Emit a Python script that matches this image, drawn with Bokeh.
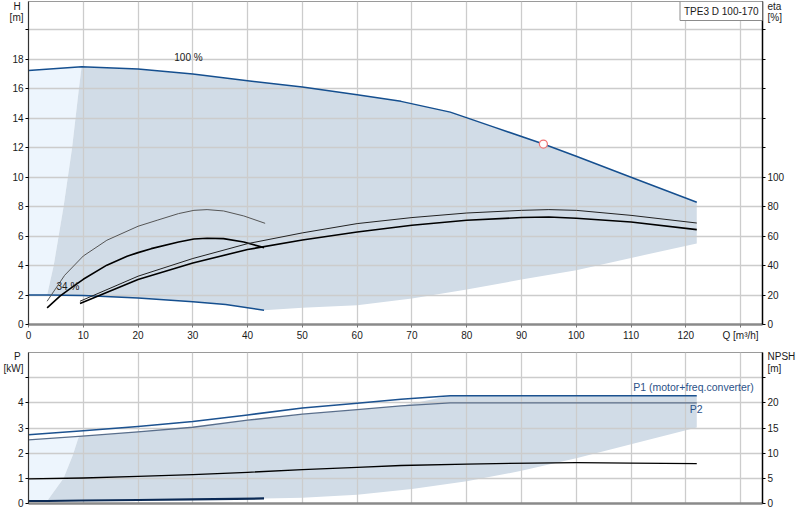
from bokeh.plotting import figure
from bokeh.layouts import column
from bokeh.models import Range1d, LinearAxis, FixedTicker, Label
from bokeh.core.properties import value
from bokeh.embed import file_html
from bokeh.resources import INLINE

FONT = "Liberation Sans"

# pump curves, head H [m] over flow Q [m3/h]
q_100 = [0, 9.7, 20, 30, 40, 50, 60, 68, 77, 85, 94, 100, 110, 122]
h_100 = [17.25, 17.5, 17.35, 17.0, 16.55, 16.12, 15.6, 15.15, 14.42, 13.4, 12.25, 11.42, 10.0, 8.3]
q_34 = [0, 3.4, 10, 20, 30, 36, 43]
h_34 = [2.0, 2.0, 1.97, 1.8, 1.55, 1.35, 0.97]
# edges of the operating range
q_min = [3.4, 4.6, 6.4, 7.96, 9.2, 9.7]
h_min = [2.0, 4.0, 8.0, 12.0, 16.0, 17.5]
q_low = [43, 50, 60, 70, 80, 90, 100, 110, 122]
h_low = [0.97, 1.13, 1.31, 1.76, 2.37, 3.05, 3.68, 4.52, 5.5]

# duty point
q_duty = [94]
h_duty = [12.25]

# efficiency curves [%]
q_eta_a = [3.4, 6.6, 10, 14.3, 20, 23.5, 27.4, 30.2, 32.6, 35.6, 39.3, 43.2]
eta_a = [15.8, 33.4, 46.5, 57.2, 66.7, 70.8, 75.3, 77.5, 78.0, 77.1, 73.7, 68.7]
q_eta_b = [3.4, 5.8, 8.3, 10, 14.3, 18, 20, 22.4, 27.4, 30.2, 32.6, 35.6, 39.3, 43.0]
eta_b = [11.3, 19.4, 26.2, 30.7, 40.3, 46.3, 48.8, 51.5, 56.0, 58.1, 58.6, 58.3, 56.0, 52.2]
q_eta_c = [9.4, 20, 30, 40, 50, 60, 70, 80, 90, 95, 100, 110, 122]
eta_c = [15.8, 32.8, 44.8, 54.9, 62.2, 68.5, 72.6, 75.7, 77.5, 78.0, 77.5, 74.1, 68.9]
eta_d = [14.2, 30.5, 41.8, 50.9, 57.4, 62.8, 67.4, 70.8, 72.6, 73.0, 72.1, 69.6, 64.4]

# power [kW]
q_p1 = [0, 10, 20, 30, 40, 50, 60, 68, 77, 122]
p1 = [2.73, 2.89, 3.06, 3.26, 3.52, 3.79, 3.98, 4.14, 4.28, 4.28]
q_p2 = [0, 9.2, 20, 30, 40, 50, 60, 68, 77, 122]
p2 = [2.53, 2.67, 2.85, 3.03, 3.31, 3.55, 3.73, 3.88, 4.0, 4.0]
q_p34 = [0, 3.4, 10, 20, 30, 43]
p34 = [0.1, 0.1, 0.12, 0.14, 0.16, 0.2]
q_pmin = [3.4, 6.4, 8.1, 9.2]
p_min = [0.1, 1.0, 1.93, 2.67]
q_plow = [43, 50, 60, 70, 80, 90, 100, 110, 122]
p_low = [0.2, 0.23, 0.35, 0.58, 0.88, 1.3, 1.8, 2.35, 3.02]

# NPSH [m]
q_npsh = [0, 10, 20, 30, 40, 50, 60, 68, 80, 92, 100, 110, 122]
npsh = [4.9, 5.07, 5.4, 5.74, 6.2, 6.73, 7.19, 7.55, 7.84, 8.04, 8.12, 8.04, 7.92]

# axis ticks
q_ticks = list(range(0, 140, 10))
h_ticks = list(range(0, 22, 2))
h_labels = {t: str(t) for t in range(0, 20, 2)}
eta_ticks = list(range(0, 220, 20))
eta_labels = {t: str(t) for t in range(0, 120, 20)}
p_ticks = list(range(0, 6))
p_labels = {t: str(t) for t in range(0, 5)}
npsh_ticks = list(range(0, 30, 5))
npsh_labels = {t: str(t) for t in range(0, 25, 5)}

LIGHT = "#edf5fd"
DARK = "#d1dce7"
BLUE = "#154f8f"


def tick_axis(ax, ticks, color, width):
    # ticks and axis line only
    ax.ticker = FixedTicker(ticks=ticks)
    ax.axis_line_color = color
    ax.axis_line_width = width
    ax.major_tick_line_color = "black"
    ax.major_tick_out = 3
    ax.major_tick_in = 0
    ax.minor_tick_line_color = None
    ax.major_label_standoff = 0
    ax.major_label_text_font_size = "0px"
    ax.major_label_text_color = None


def label_axis(p, side, labels, range_name="default"):
    # labels only, stacked outside the tick axis
    ax = LinearAxis(y_range_name=range_name, ticker=FixedTicker(ticks=list(labels.keys())))
    ax.major_label_overrides = labels
    ax.axis_line_color = None
    ax.major_tick_line_color = None
    ax.minor_tick_line_color = None
    ax.major_tick_out = 0
    ax.major_tick_in = 0
    ax.major_label_standoff = 2
    ax.major_label_text_font = FONT
    ax.major_label_text_font_size = "10px"
    ax.major_label_text_color = "#1a1a1a"
    p.add_layout(ax, side)


def base(p):
    p.background_fill_color = "white"
    p.border_fill_color = "white"
    p.outline_line_color = "#9a9a9a"
    p.grid.grid_line_color = "#cccccc"
    p.grid.grid_line_width = 1.3


xr = Range1d(0, 134)

# ---------------- head / efficiency ----------------
top = figure(frame_width=734, frame_height=323, min_border_left=28, min_border_right=36,
             min_border_top=1, min_border_bottom=18, x_range=xr, y_range=Range1d(0, 21.93),
             toolbar_location=None, output_backend="svg")
top.extra_y_ranges = {"eta": Range1d(0, 219.3)}
base(top)

light = top.patch(q_100[:2] + q_min[-2::-1] + [q_34[0]],
                  h_100[:2] + h_min[-2::-1] + [h_34[0]],
                  fill_color=LIGHT, line_color=None)
dark = top.patch(q_min + q_100[2:] + q_low[::-1] + q_34[-2:1:-1],
                 h_min + h_100[2:] + h_low[::-1] + h_34[-2:1:-1],
                 fill_color=DARK, line_color=None)
light.level = "image"
dark.level = "image"

top.line(q_100, h_100, line_color=BLUE, line_width=1.5, line_join="round")
top.line(q_34, h_34, line_color=BLUE, line_width=1.5, line_join="round")
top.line(q_eta_a, eta_a, y_range_name="eta", line_color="#555555", line_width=1,
         line_join="round")
top.line(q_eta_b, eta_b, y_range_name="eta", line_color="black", line_width=1.6,
         line_join="round")
top.line(q_eta_c, eta_c, y_range_name="eta", line_color="#222222", line_width=1,
         line_join="round")
top.line(q_eta_c, eta_d, y_range_name="eta", line_color="black", line_width=1.6,
         line_join="round")
top.scatter(q_duty, h_duty, marker="circle", size=8, fill_color="white",
            line_color="#f07474", line_width=1.2)

top.text(x=[29.2, 7.2], y=[18.1, 2.6], text=["100 %", "34 %"], text_font=value(FONT),
         text_font_size="10px", text_color="#1a1a1a", text_align="center",
         text_baseline="middle")

top.xaxis.ticker = FixedTicker(ticks=q_ticks)
top.xaxis.major_label_overrides = {130: "Q [m³/h]"}
top.xaxis.axis_line_color = "#8a8a8a"
top.xaxis.axis_line_width = 2.5
top.xaxis.major_tick_line_color = "#777777"
top.xaxis.major_tick_out = 3
top.xaxis.major_tick_in = 0
top.xaxis.minor_tick_line_color = None
top.xaxis.major_label_standoff = 2
top.xaxis.major_label_text_font = FONT
top.xaxis.major_label_text_font_size = "10px"
top.xaxis.major_label_text_color = "#1a1a1a"

tick_axis(top.yaxis[0], h_ticks, "#333333", 1.2)
label_axis(top, "left", {**h_labels, 20.85: "[m]", 21.66: "H "})
eta_ax = LinearAxis(y_range_name="eta")
top.add_layout(eta_ax, "right")
tick_axis(eta_ax, eta_ticks, "black", 1.5)
label_axis(top, "right", {**eta_labels, 208.5: "[%]", 216.6: "eta"}, "eta")

top.xgrid.ticker = FixedTicker(ticks=q_ticks)
top.ygrid.ticker = FixedTicker(ticks=h_ticks)

top.add_layout(Label(x=734, y=323, x_units="screen", y_units="screen", text="TPE3 D 100-170",
                     text_font=FONT, text_font_size="10px", text_color="#1a1a1a",
                     text_align="right", text_baseline="top", background_fill_color="white",
                     border_line_color="#8c8c8c", padding=4))

# ---------------- power / NPSH ----------------
bot = figure(frame_width=734, frame_height=151, min_border_left=28, min_border_right=36,
             min_border_top=9, min_border_bottom=10, x_range=xr, y_range=Range1d(0, 6),
             toolbar_location=None, output_backend="svg")
bot.extra_y_ranges = {"npsh": Range1d(0, 30)}
base(bot)

plight = bot.patch(q_p2[:2] + q_pmin[-2::-1] + [q_p34[0]],
                   p2[:2] + p_min[-2::-1] + [p34[0]],
                   fill_color=LIGHT, line_color=None)
pdark = bot.patch(q_pmin + q_p2[2:8] + q_p1[8:] + q_plow[::-1] + q_p34[-2:1:-1],
                  p_min + p2[2:8] + p1[8:] + p_low[::-1] + p34[-2:1:-1],
                  fill_color=DARK, line_color=None)
plight.level = "image"
pdark.level = "image"

bot.line(q_p1, p1, line_color="#1c5290", line_width=1.5, line_join="round")
bot.line(q_p2, p2, line_color="#5a6f8c", line_width=1.3, line_join="round")
bot.line(q_p34, p34, line_color="#0b2a55", line_width=2.2, line_join="round")
bot.line(q_npsh, npsh, y_range_name="npsh", line_color="black", line_width=1.3,
         line_join="round")

bot.text(x=[132.4], y=[4.62], text=["P1 (motor+freq.converter)"], text_font=value(FONT),
         text_font_size="10.5px", text_color="#2b5288", text_align="right",
         text_baseline="middle")
bot.text(x=[121.9], y=[3.75], text=["P2"], text_font=value(FONT),
         text_font_size="10.5px", text_color="#2b5288", text_align="center",
         text_baseline="middle")

tick_axis(bot.xaxis[0], q_ticks, "#8a8a8a", 2.5)
bot.xaxis.major_tick_out = 0
tick_axis(bot.yaxis[0], p_ticks, "#333333", 1.2)
label_axis(bot, "left", {**p_labels, 5.36: "[kW]", 5.83: "P "})
npsh_ax = LinearAxis(y_range_name="npsh")
bot.add_layout(npsh_ax, "right")
tick_axis(npsh_ax, npsh_ticks, "black", 1.5)
label_axis(bot, "right", {**npsh_labels, 26.8: "[m]", 29.15: "NPSH"}, "npsh")

bot.xgrid.ticker = FixedTicker(ticks=q_ticks)
bot.ygrid.ticker = FixedTicker(ticks=p_ticks)

layout = column(top, bot)
open("out.html", "w").write(file_html(layout, INLINE))
